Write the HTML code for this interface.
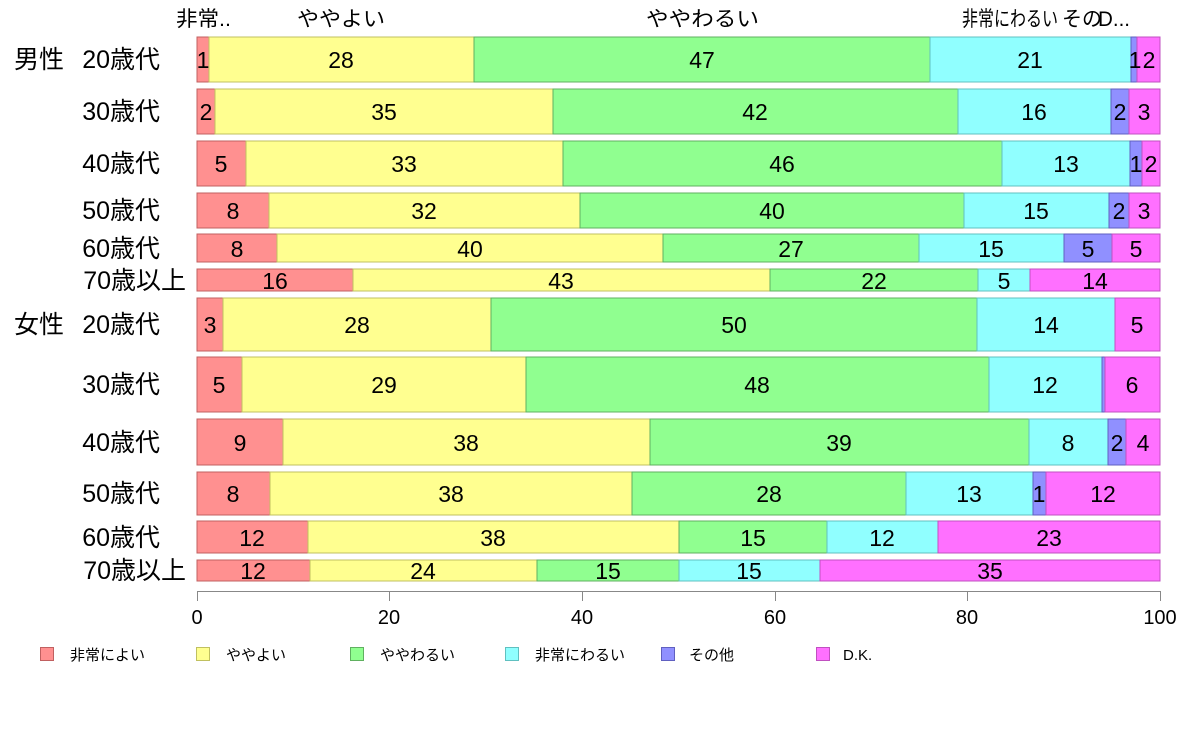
<!DOCTYPE html>
<html><head><meta charset="utf-8"><style>
html,body{margin:0;padding:0;background:#fff;}
svg{display:block;font-family:"Liberation Sans","Noto Sans CJK JP",sans-serif;}
.r{stroke:#c06060}.y{stroke:#c0c060}.g{stroke:#60b060}.c{stroke:#60c0c0}.p{stroke:#6060c0}.m{stroke:#c050c0}
.v{font-size:23px;text-anchor:middle;fill:#000}
.l{font-size:25px;text-anchor:end;fill:#000}
</style></head><body>
<svg width="1188" height="736" viewBox="0 0 1188 736">
<g font-size="21">
<text x="176" y="26" textLength="55" lengthAdjust="spacingAndGlyphs">非常..</text>
<text x="297" y="26" textLength="88" lengthAdjust="spacingAndGlyphs">ややよい</text>
<text x="646" y="26" textLength="113" lengthAdjust="spacingAndGlyphs">ややわるい</text>
<text x="962" y="26" textLength="96" lengthAdjust="spacingAndGlyphs">非常にわるい</text>
<text x="1062" y="26" textLength="40" lengthAdjust="spacingAndGlyphs">その</text>
<text x="1098" y="26" textLength="32" lengthAdjust="spacingAndGlyphs">D...</text>
</g>
<g stroke-width="1">
<rect x="197" y="37" width="12" height="45" fill="#ff9090" class="r"/><rect x="209" y="37" width="265" height="45" fill="#ffff90" class="y"/><rect x="474" y="37" width="456" height="45" fill="#90ff90" class="g"/><rect x="930" y="37" width="201" height="45" fill="#90ffff" class="c"/><rect x="1131" y="37" width="6" height="45" fill="#9090ff" class="p"/><rect x="1137" y="37" width="23" height="45" fill="#ff70ff" class="m"/>
<rect x="197" y="89" width="18" height="45" fill="#ff9090" class="r"/><rect x="215" y="89" width="338" height="45" fill="#ffff90" class="y"/><rect x="553" y="89" width="405" height="45" fill="#90ff90" class="g"/><rect x="958" y="89" width="153" height="45" fill="#90ffff" class="c"/><rect x="1111" y="89" width="18" height="45" fill="#9090ff" class="p"/><rect x="1129" y="89" width="31" height="45" fill="#ff70ff" class="m"/>
<rect x="197" y="141" width="49" height="45" fill="#ff9090" class="r"/><rect x="246" y="141" width="317" height="45" fill="#ffff90" class="y"/><rect x="563" y="141" width="439" height="45" fill="#90ff90" class="g"/><rect x="1002" y="141" width="128" height="45" fill="#90ffff" class="c"/><rect x="1130" y="141" width="12" height="45" fill="#9090ff" class="p"/><rect x="1142" y="141" width="18" height="45" fill="#ff70ff" class="m"/>
<rect x="197" y="193" width="72" height="35" fill="#ff9090" class="r"/><rect x="269" y="193" width="311" height="35" fill="#ffff90" class="y"/><rect x="580" y="193" width="384" height="35" fill="#90ff90" class="g"/><rect x="964" y="193" width="145" height="35" fill="#90ffff" class="c"/><rect x="1109" y="193" width="20" height="35" fill="#9090ff" class="p"/><rect x="1129" y="193" width="31" height="35" fill="#ff70ff" class="m"/>
<rect x="197" y="234" width="80" height="28" fill="#ff9090" class="r"/><rect x="277" y="234" width="386" height="28" fill="#ffff90" class="y"/><rect x="663" y="234" width="256" height="28" fill="#90ff90" class="g"/><rect x="919" y="234" width="145" height="28" fill="#90ffff" class="c"/><rect x="1064" y="234" width="48" height="28" fill="#9090ff" class="p"/><rect x="1112" y="234" width="48" height="28" fill="#ff70ff" class="m"/>
<rect x="197" y="269" width="156" height="22" fill="#ff9090" class="r"/><rect x="353" y="269" width="417" height="22" fill="#ffff90" class="y"/><rect x="770" y="269" width="208" height="22" fill="#90ff90" class="g"/><rect x="978" y="269" width="52" height="22" fill="#90ffff" class="c"/><rect x="1030" y="269" width="130" height="22" fill="#ff70ff" class="m"/>
<rect x="197" y="298" width="26" height="53" fill="#ff9090" class="r"/><rect x="223" y="298" width="268" height="53" fill="#ffff90" class="y"/><rect x="491" y="298" width="486" height="53" fill="#90ff90" class="g"/><rect x="977" y="298" width="138" height="53" fill="#90ffff" class="c"/><rect x="1115" y="298" width="45" height="53" fill="#ff70ff" class="m"/>
<rect x="197" y="357" width="45" height="55" fill="#ff9090" class="r"/><rect x="242" y="357" width="284" height="55" fill="#ffff90" class="y"/><rect x="526" y="357" width="463" height="55" fill="#90ff90" class="g"/><rect x="989" y="357" width="113" height="55" fill="#90ffff" class="c"/><rect x="1102" y="357" width="3" height="55" fill="#9090ff" class="p"/><rect x="1105" y="357" width="55" height="55" fill="#ff70ff" class="m"/>
<rect x="197" y="419" width="86" height="46" fill="#ff9090" class="r"/><rect x="283" y="419" width="367" height="46" fill="#ffff90" class="y"/><rect x="650" y="419" width="379" height="46" fill="#90ff90" class="g"/><rect x="1029" y="419" width="79" height="46" fill="#90ffff" class="c"/><rect x="1108" y="419" width="18" height="46" fill="#9090ff" class="p"/><rect x="1126" y="419" width="34" height="46" fill="#ff70ff" class="m"/>
<rect x="197" y="472" width="73" height="43" fill="#ff9090" class="r"/><rect x="270" y="472" width="362" height="43" fill="#ffff90" class="y"/><rect x="632" y="472" width="274" height="43" fill="#90ff90" class="g"/><rect x="906" y="472" width="127" height="43" fill="#90ffff" class="c"/><rect x="1033" y="472" width="13" height="43" fill="#9090ff" class="p"/><rect x="1046" y="472" width="114" height="43" fill="#ff70ff" class="m"/>
<rect x="197" y="521" width="111" height="32" fill="#ff9090" class="r"/><rect x="308" y="521" width="371" height="32" fill="#ffff90" class="y"/><rect x="679" y="521" width="148" height="32" fill="#90ff90" class="g"/><rect x="827" y="521" width="111" height="32" fill="#90ffff" class="c"/><rect x="938" y="521" width="222" height="32" fill="#ff70ff" class="m"/>
<rect x="197" y="560" width="113" height="21" fill="#ff9090" class="r"/><rect x="310" y="560" width="227" height="21" fill="#ffff90" class="y"/><rect x="537" y="560" width="142" height="21" fill="#90ff90" class="g"/><rect x="679" y="560" width="141" height="21" fill="#90ffff" class="c"/><rect x="820" y="560" width="340" height="21" fill="#ff70ff" class="m"/>
</g>
<g>
<text class="v" x="203" y="68">1</text><text class="v" x="341" y="68">28</text><text class="v" x="702" y="68">47</text><text class="v" x="1030" y="68">21</text><text class="v" x="1135" y="68">1</text><text class="v" x="1149" y="68">2</text>
<text class="v" x="206" y="120">2</text><text class="v" x="384" y="120">35</text><text class="v" x="755" y="120">42</text><text class="v" x="1034" y="120">16</text><text class="v" x="1120" y="120">2</text><text class="v" x="1144" y="120">3</text>
<text class="v" x="221" y="172">5</text><text class="v" x="404" y="172">33</text><text class="v" x="782" y="172">46</text><text class="v" x="1066" y="172">13</text><text class="v" x="1136" y="172">1</text><text class="v" x="1151" y="172">2</text>
<text class="v" x="233" y="219">8</text><text class="v" x="424" y="219">32</text><text class="v" x="772" y="219">40</text><text class="v" x="1036" y="219">15</text><text class="v" x="1119" y="219">2</text><text class="v" x="1144" y="219">3</text>
<text class="v" x="237" y="257">8</text><text class="v" x="470" y="257">40</text><text class="v" x="791" y="257">27</text><text class="v" x="991" y="257">15</text><text class="v" x="1088" y="257">5</text><text class="v" x="1136" y="257">5</text>
<text class="v" x="275" y="289">16</text><text class="v" x="561" y="289">43</text><text class="v" x="874" y="289">22</text><text class="v" x="1004" y="289">5</text><text class="v" x="1095" y="289">14</text>
<text class="v" x="210" y="333">3</text><text class="v" x="357" y="333">28</text><text class="v" x="734" y="333">50</text><text class="v" x="1046" y="333">14</text><text class="v" x="1137" y="333">5</text>
<text class="v" x="219" y="393">5</text><text class="v" x="384" y="393">29</text><text class="v" x="757" y="393">48</text><text class="v" x="1045" y="393">12</text><text class="v" x="1132" y="393">6</text>
<text class="v" x="240" y="451">9</text><text class="v" x="466" y="451">38</text><text class="v" x="839" y="451">39</text><text class="v" x="1068" y="451">8</text><text class="v" x="1117" y="451">2</text><text class="v" x="1143" y="451">4</text>
<text class="v" x="233" y="502">8</text><text class="v" x="451" y="502">38</text><text class="v" x="769" y="502">28</text><text class="v" x="969" y="502">13</text><text class="v" x="1039" y="502">1</text><text class="v" x="1103" y="502">12</text>
<text class="v" x="252" y="546">12</text><text class="v" x="493" y="546">38</text><text class="v" x="753" y="546">15</text><text class="v" x="882" y="546">12</text><text class="v" x="1049" y="546">23</text>
<text class="v" x="253" y="579">12</text><text class="v" x="423" y="579">24</text><text class="v" x="608" y="579">15</text><text class="v" x="749" y="579">15</text><text class="v" x="990" y="579">35</text>
</g>
<g>
<text class="l" x="160" y="68">20歳代</text><text x="14" y="68" font-size="25">男性</text>
<text class="l" x="160" y="120">30歳代</text>
<text class="l" x="160" y="172">40歳代</text>
<text class="l" x="160" y="219">50歳代</text>
<text class="l" x="160" y="257">60歳代</text>
<text class="l" x="186" y="289">70歳以上</text>
<text class="l" x="160" y="333">20歳代</text><text x="14" y="333" font-size="25">女性</text>
<text class="l" x="160" y="393">30歳代</text>
<text class="l" x="160" y="451">40歳代</text>
<text class="l" x="160" y="502">50歳代</text>
<text class="l" x="160" y="546">60歳代</text>
<text class="l" x="186" y="579">70歳以上</text>
</g>
<g stroke="#888" stroke-width="1">
<line x1="197" y1="591.5" x2="1160" y2="591.5"/>
<line x1="197.5" y1="591" x2="197.5" y2="601"/><line x1="389.5" y1="591" x2="389.5" y2="601"/><line x1="582.5" y1="591" x2="582.5" y2="601"/><line x1="775.5" y1="591" x2="775.5" y2="601"/><line x1="967.5" y1="591" x2="967.5" y2="601"/><line x1="1160.5" y1="591" x2="1160.5" y2="601"/>
</g>
<g font-size="20" text-anchor="middle">
<text x="197" y="624">0</text><text x="389" y="624">20</text><text x="582" y="624">40</text><text x="775" y="624">60</text><text x="967" y="624">80</text><text x="1160" y="624">100</text>
</g>
<g font-size="15">
<rect x="40.5" y="647.5" width="13" height="13" fill="#ff9090" class="r"/><text x="70" y="660">非常によい</text>
<rect x="196.5" y="647.5" width="13" height="13" fill="#ffff90" class="y"/><text x="226" y="660">ややよい</text>
<rect x="350.5" y="647.5" width="13" height="13" fill="#90ff90" class="g"/><text x="380" y="660">ややわるい</text>
<rect x="505.5" y="647.5" width="13" height="13" fill="#90ffff" class="c"/><text x="535" y="660">非常にわるい</text>
<rect x="661.5" y="647.5" width="13" height="13" fill="#9090ff" class="p"/><text x="689" y="660">その他</text>
<rect x="816.5" y="647.5" width="13" height="13" fill="#ff70ff" class="m"/><text x="843" y="660">D.K.</text>
</g>
</svg>
</body></html>
